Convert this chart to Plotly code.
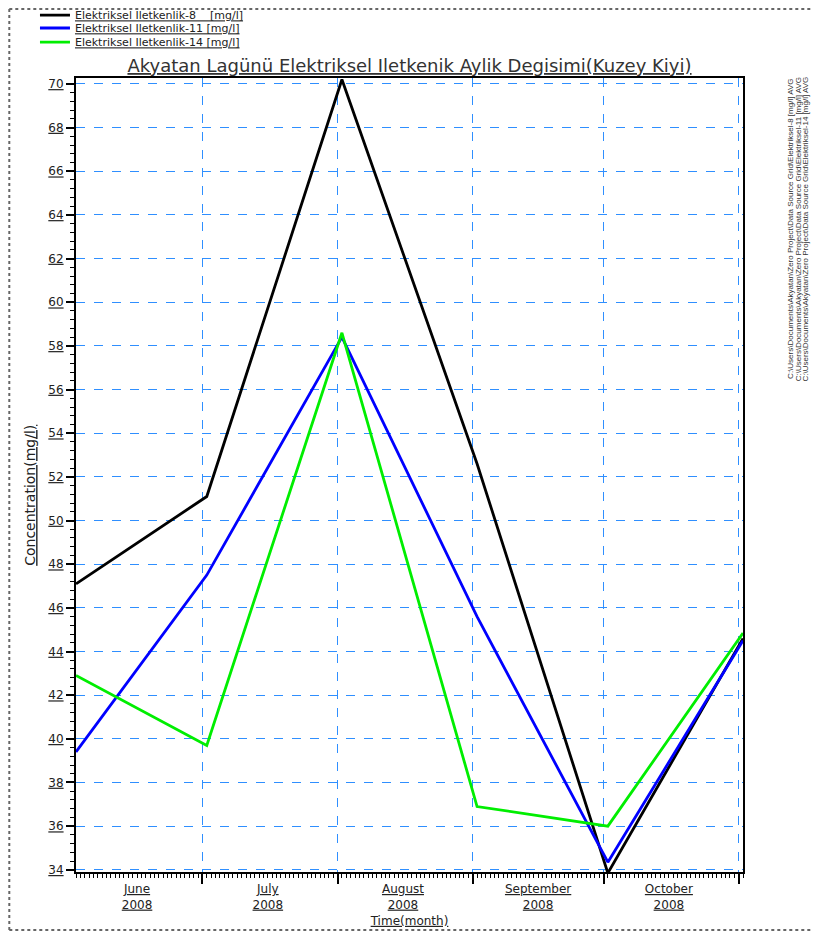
import plotly.graph_objects as go

# ---- data ----
dates = ['2008-06-02', '2008-07-02', '2008-08-02', '2008-09-02', '2008-10-02', '2008-11-02']
ec8 = [47.1, 51.1, 70.2, 52.6, 33.85, 44.6]
ec11 = [39.4, 47.5, 58.4, 45.6, 34.35, 44.5]
ec14 = [42.9, 39.7, 58.6, 36.9, 36.0, 44.85]

series_names = ['Elektriksel Iletkenlik-8\u00a0\u00a0\u00a0\u00a0[mg/l]',
                'Elektriksel Iletkenlik-11 [mg/l]',
                'Elektriksel Iletkenlik-14 [mg/l]']
series_colors = ['#000000', '#0000ff', '#00ee00']

month_bounds = ['2008-07-01', '2008-08-01', '2008-09-01', '2008-10-01', '2008-11-01']
month_mids = ['2008-06-16', '2008-07-16', '2008-08-16', '2008-09-16', '2008-10-16']
month_labels = ['June', 'July', 'August', 'September', 'October']
year_label = '2008'
y_ticks = list(range(34, 71, 2))

title_text = 'Akyatan Lagünü Elektriksel Iletkenik Aylik Degisimi(Kuzey Kiyi)'
y_title = 'Concentration(mg/l)'
x_title = 'Time(month)'

x_range = ['2008-06-02', '2008-11-02']
y_range = [33.9, 70.27]

WIDE = 'DejaVu Sans, Verdana, sans-serif'

fig = go.Figure()
legend_ids = ['legend', 'legend2', 'legend3']
for vals, name, col, lg in zip([ec8, ec11, ec14], series_names, series_colors, legend_ids):
    fig.add_trace(go.Scatter(x=dates, y=vals, mode='lines', name='<u>' + name + '</u>',
                             line=dict(color=col, width=2.8), xaxis='x', yaxis='y', legend=lg))

# invisible trace to carry the label axis
fig.add_trace(go.Scatter(x=month_mids, y=[None] * len(month_mids), xaxis='x2', yaxis='y',
                         showlegend=False, hoverinfo='skip', mode='lines'))

grid_col = '#2f8fff'
label_font = dict(family=WIDE, size=12, color='#222222')

legend_common = dict(x=-0.0615, xanchor='left', yanchor='middle', bgcolor='rgba(0,0,0,0)',
                     font=dict(family=WIDE, size=11, color='#222222'), itemwidth=30)

fig.update_layout(
    width=813, height=927,
    margin=dict(l=68, r=78, t=70, b=63, autoexpand=False),
    paper_bgcolor='white', plot_bgcolor='white',
    font=dict(family=WIDE, color='#222222'),
    title=dict(text='<u>' + title_text + '</u>', x=0.5, xref='paper', xanchor='center',
               y=1, yref='paper', yanchor='bottom', pad=dict(b=6),
               font=dict(family=WIDE, size=18, color='#333333')),
    showlegend=True,
    legend=dict(y=1.0793, **legend_common),
    legend2=dict(y=1.063, **legend_common),
    legend3=dict(y=1.0453, **legend_common),
    xaxis=dict(type='date', range=x_range, tickmode='array', tickvals=month_bounds,
               ticktext=[''] * len(month_bounds), ticks='outside', ticklen=10, tickwidth=2,
               tickcolor='black', showgrid=True, gridcolor=grid_col, griddash='dash', gridwidth=1,
               showline=True, linecolor='black', linewidth=2, mirror=True, zeroline=False,
               automargin=False,
               minor=dict(dtick=86400000, tick0='2008-06-01', ticks='outside', ticklen=4,
                          tickwidth=1, tickcolor='black', showgrid=False),
               title=dict(text='<u>' + x_title + '</u>', standoff=31,
                          font=dict(family=WIDE, size=12, color='#222222'))),
    xaxis2=dict(type='date', range=x_range, overlaying='x', anchor='y', side='bottom',
                tickmode='array', tickvals=month_mids, automargin=False,
                ticktext=['<u>%s</u><br><u>%s</u>' % (m, year_label) for m in month_labels],
                ticks='', showgrid=False, showline=False, zeroline=False,
                tickfont=label_font, ticklabelstandoff=8),
    yaxis=dict(range=y_range, tickmode='array', tickvals=y_ticks, automargin=False,
               ticktext=['<u>%d</u>' % v for v in y_ticks], ticks='outside', ticklen=8,
               tickwidth=2, tickcolor='black', tickfont=label_font,
               showgrid=True, gridcolor=grid_col, griddash='dash', gridwidth=1,
               showline=True, linecolor='black', linewidth=2, mirror=True, zeroline=False,
               minor=dict(dtick=0.4, tick0=34, ticks='outside', ticklen=4, tickwidth=1,
                          tickcolor='black', showgrid=False)),
)

# y-axis title (placed slightly below centre, as in the reference)
fig.add_annotation(text='<u>' + y_title + '</u>', xref='paper', yref='paper', x=-0.069, y=0.475,
                   textangle=-90, showarrow=False, xanchor='center', yanchor='middle',
                   font=dict(family=WIDE, size=14, color='#222222'))

# page border (left, top, bottom)
border = dict(color='#666666', width=2, dash='dot')
fig.add_shape(type='line', xref='paper', yref='paper', x0=-0.1, x1=-0.1, y0=-0.073, y1=1.087,
              line=border, layer='below')
fig.add_shape(type='line', xref='paper', yref='paper', x0=-0.1, x1=1.2, y0=1.087, y1=1.087,
              line=border, layer='below')
fig.add_shape(type='line', xref='paper', yref='paper', x0=-0.1, x1=1.2, y0=-0.073, y1=-0.073,
              line=border, layer='below')

# file path notes on the right (rotated)
paths = ['C:\\Users\\Documents\\Akyatan\\Zero Project\\Data Source Grid\\Elektriksel-8 [mg/l] AVG',
         'C:\\Users\\Documents\\Akyatan\\Zero Project\\Data Source Grid\\Elektriksel-11 [mg/l] AVG',
         'C:\\Users\\Documents\\Akyatan\\Zero Project\\Data Source Grid\\Elektriksel-14 [mg/l] AVG']
for i, p in enumerate(paths):
    fig.add_annotation(text=p, xref='paper', yref='paper', x=1.072 + i * 0.011, y=0.81,
                       textangle=-90, showarrow=False,
                       font=dict(family='Liberation Sans, Arial, sans-serif', size=8, color='#333333'),
                       xanchor='center', yanchor='middle')

fig.write_html('out.html')
